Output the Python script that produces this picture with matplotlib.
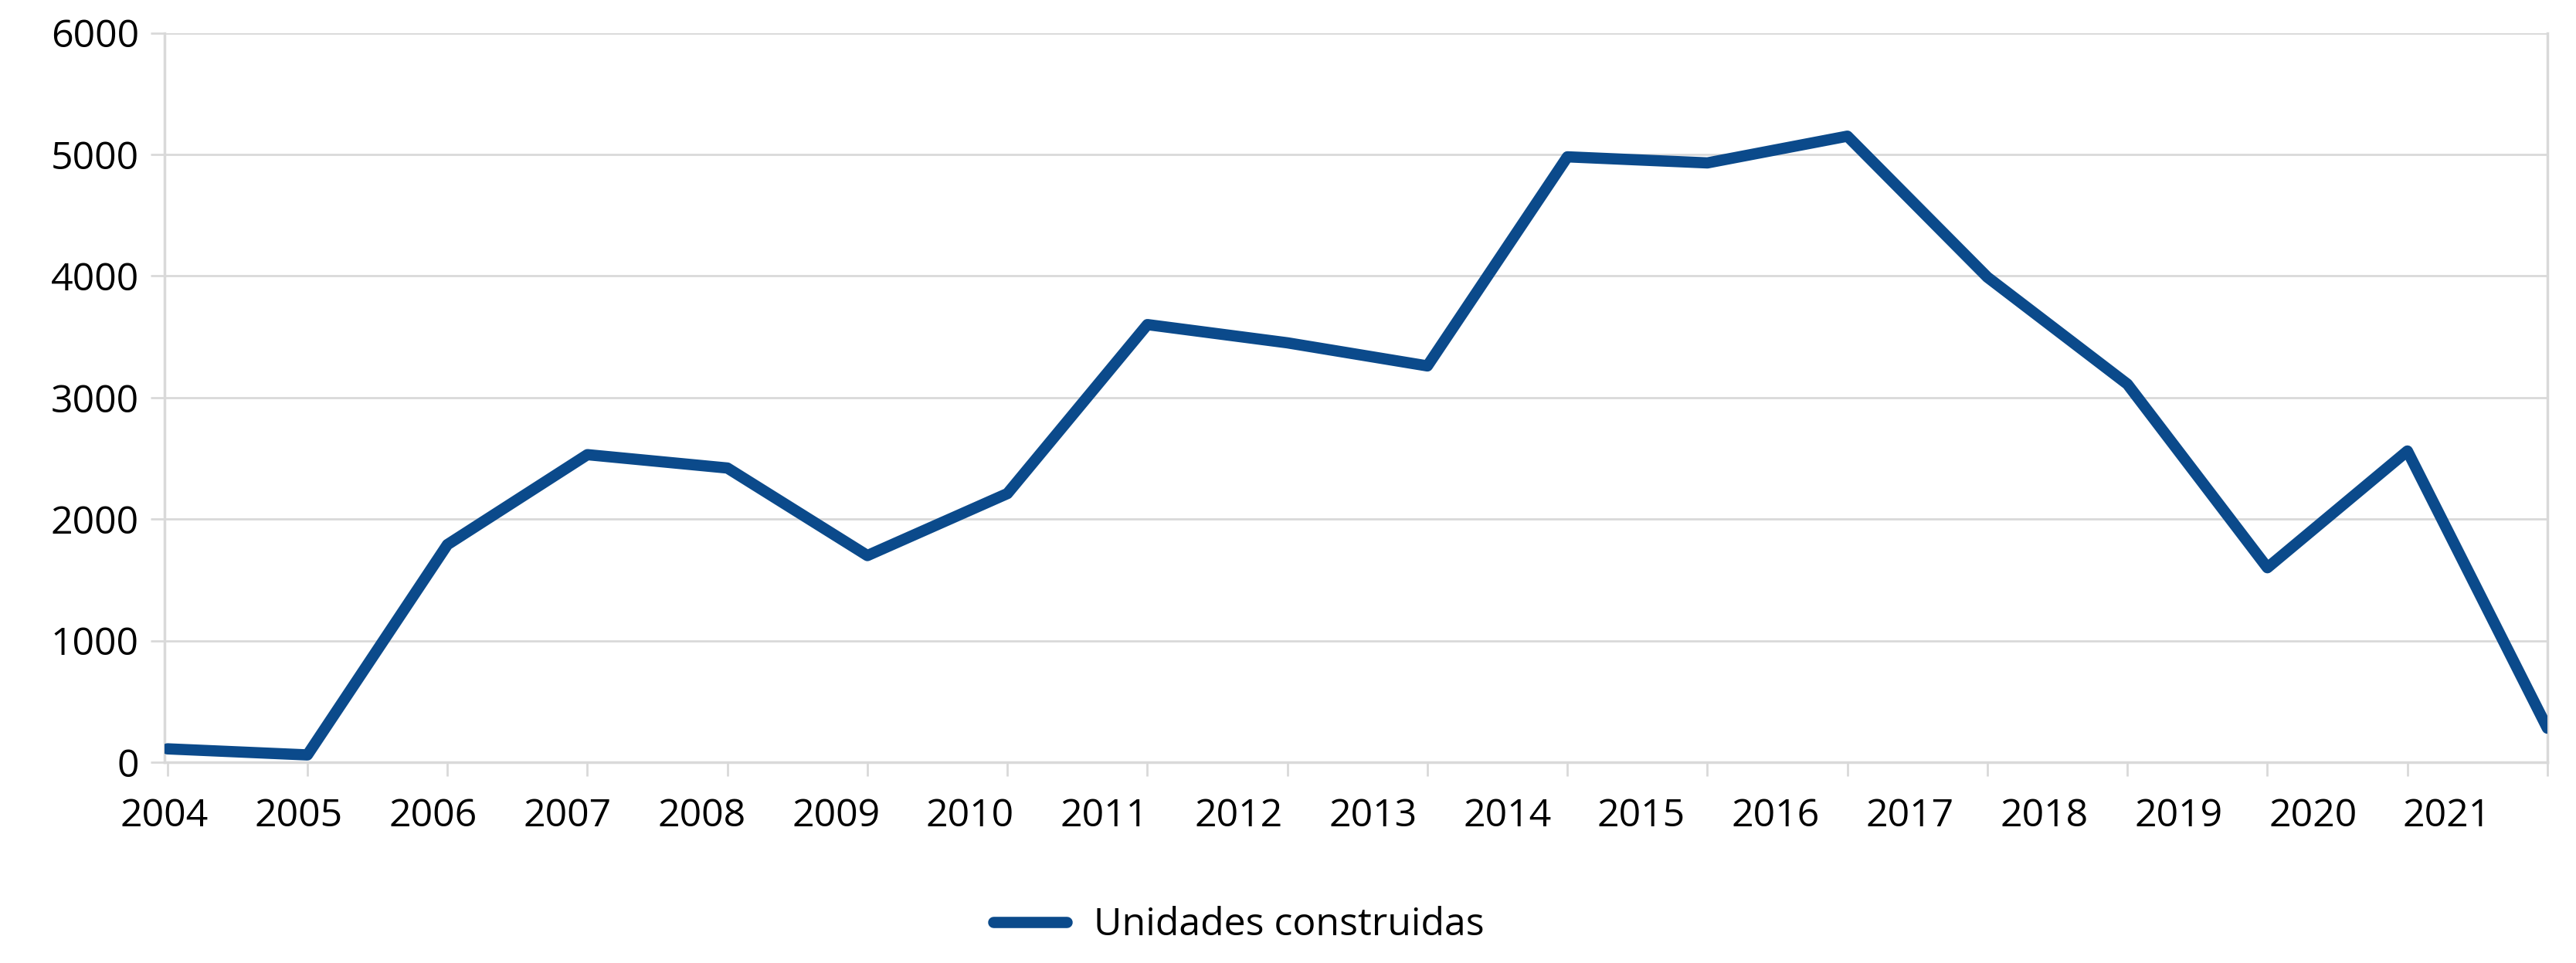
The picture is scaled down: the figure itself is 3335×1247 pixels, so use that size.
import numpy as np
from matplotlib import pyplot as plt

years = ['2004', '2005', '2006', '2007', '2008', '2009', '2010', '2011', '2012',
         '2013', '2014', '2015', '2016', '2017', '2018', '2019', '2020', '2021']
units = [110, 60, 1790, 2530, 2420, 1700, 2210, 3600, 3450,
         3260, 4980, 4930, 5150, 3990, 3110, 1600, 2560, 280]
yTicks = [0, 1000, 2000, 3000, 4000, 5000, 6000]

lineColor = '#0b4a8b'
gridColor = '#d9d9d9'
fontSize = 36

plt.rcParams['font.family'] = ['Open Sans', 'DejaVu Sans']

fig = plt.figure(figsize=(33.35, 12.47), dpi=100)
ax = fig.add_axes([0.0639, 0.2085, 0.9250, 0.7574])

x = np.arange(len(years))
ax.plot(x, units, color=lineColor, linewidth=10.5, solid_capstyle='round',
        solid_joinstyle='round', label='Unidades construidas', zorder=3)

ax.set_xlim(0, len(years) - 1)
ax.set_ylim(0, 6000)
ax.set_yticks(yTicks)
ax.set_yticklabels([str(v) for v in yTicks])
ax.grid(axis='y', color=gridColor, linewidth=2)
ax.set_axisbelow(True)

# ticks at the points, labels spread a little narrower (as in the original)
ax.set_xticks(x)
ax.set_xticklabels([])
labelPos = x * 0.959 - 0.02
ax.set_xticks(labelPos, minor=True)
ax.set_xticklabels(years, minor=True)
ax.tick_params(axis='x', which='major', length=13, width=2, color=gridColor)
ax.tick_params(axis='x', which='minor', length=0, pad=33, labelsize=fontSize)
ax.tick_params(axis='y', length=13, width=2, color=gridColor, pad=11, labelsize=fontSize)

ax.spines['top'].set_visible(False)
for side in ['left', 'right', 'bottom']:
    ax.spines[side].set_color(gridColor)
    ax.spines[side].set_linewidth(2.5)

fig.legend(loc='center left', bbox_to_anchor=(0.372, 0.039), frameon=False,
           fontsize=fontSize, handlelength=1.9, handletextpad=0.7)

fig.savefig('out.png', dpi=100)
